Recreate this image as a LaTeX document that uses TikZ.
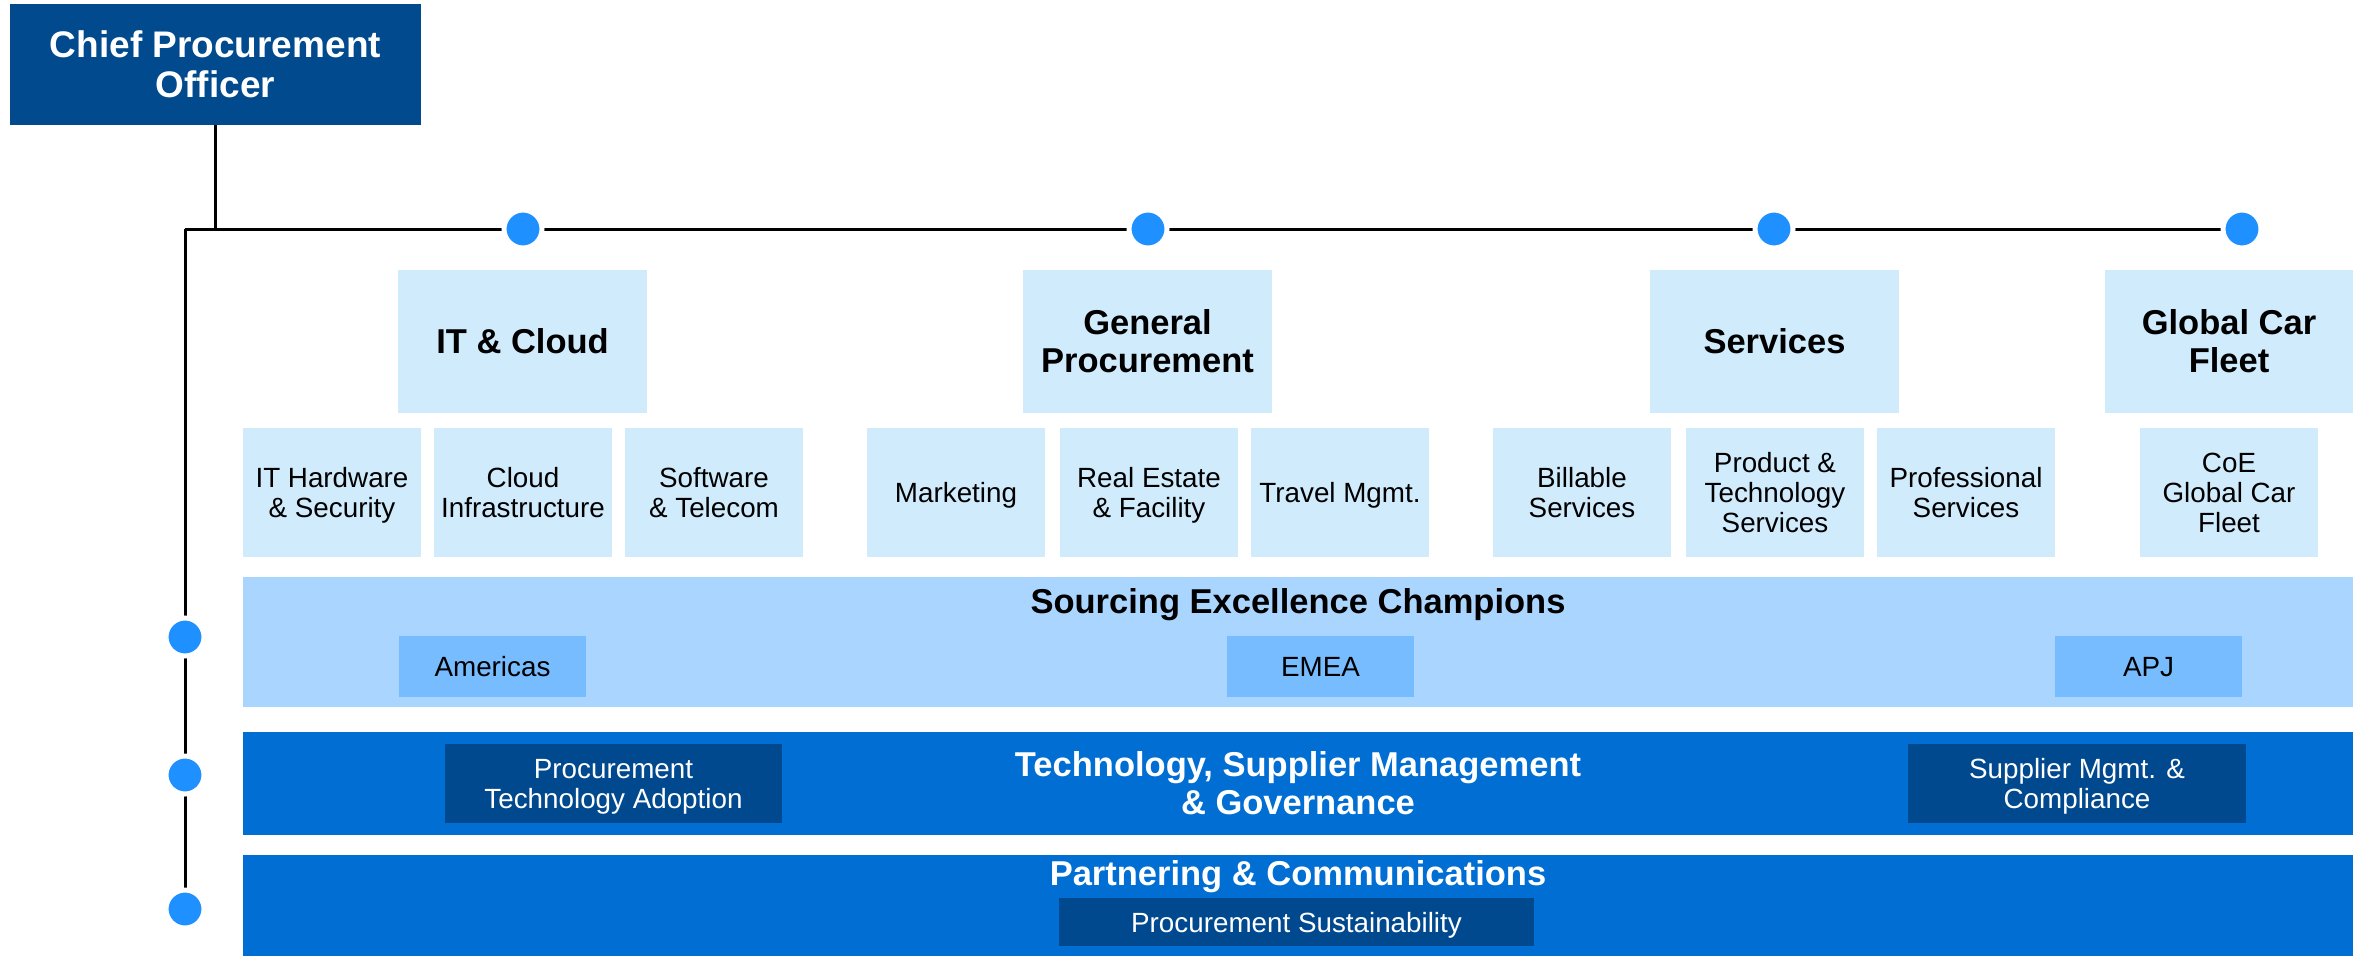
\documentclass[tikz,border=0pt]{standalone}
\usepackage{fontspec}
\setmainfont{Liberation Sans}
\usetikzlibrary{backgrounds}
\definecolor{cpoblue}{RGB}{0,74,141}
\definecolor{paleblue}{RGB}{208,235,252}
\definecolor{bandlight}{RGB}{170,213,255}
\definecolor{regionblue}{RGB}{118,188,255}
\definecolor{bandblue}{RGB}{0,110,210}
\definecolor{darkbox}{RGB}{0,73,143}
\definecolor{dotblue}{RGB}{30,144,255}
\tikzset{
  boldtext/.style={font=\fontsize{34.5}{38}\selectfont\bfseries,align=center},
  plaintext/.style={font=\fontsize{27.8}{30}\selectfont,align=center,text depth=0pt},
  cpobox/.style={fill=cpoblue,text=white,font=\fontsize{37}{40}\selectfont\bfseries,align=center,
    inner sep=0pt,minimum width=411pt,minimum height=121pt},
  headbox/.style={boldtext,fill=paleblue,inner sep=0pt,minimum width=249pt,minimum height=143pt},
  subbox/.style={plaintext,fill=paleblue,inner sep=0pt,minimum width=178pt,minimum height=129pt},
  band/.style={inner sep=0pt,minimum width=2110pt},
  regionbox/.style={plaintext,fill=regionblue,inner sep=0pt,minimum width=187pt,minimum height=61pt},
  teambox/.style={plaintext,fill=darkbox,text=white,inner sep=0pt},
  dot/.style={circle,fill=dotblue,draw=white,line width=5pt,inner sep=0pt,minimum size=38pt},
  wire/.style={line width=3pt,black}
}
\begin{document}
\begin{tikzpicture}[x=1pt,y=-1pt]
  \useasboundingbox (0,0) rectangle (2360,956);
  \node[cpobox] (cpo) at (215.5,64.5) {Chief Procurement\\Officer};
  \coordinate (hub) at (185,229);

  \node[dot] (dIT) at (523,229) {};
  \node[dot] (dGP) at (1148,229) {};
  \node[dot] (dSV) at (1774,229) {};
  \node[dot] (dGC) at (2242,229) {};
  \node[dot] (dSE) at (185,637) {};
  \node[dot] (dTS) at (185,775) {};
  \node[dot] (dPC) at (185,909) {};

  \node[headbox] (itcloud) at (522.5,341.5) {IT \& Cloud};
  \node[headbox] (genproc) at (1147.5,341.5) {General\\Procurement};
  \node[headbox] (services) at (1774.5,341.5) {Services};
  \node[headbox,minimum width=248pt] (carfleet) at (2229,341.5) {Global Car\\Fleet};

  \node[subbox] (ithw) at (332,492.5) {IT Hardware\\\& Security};
  \node[subbox] (cloudinf) at (523,492.5) {Cloud\\Infrastructure};
  \node[subbox] (software) at (714,492.5) {Software\\\& Telecom};
  \node[subbox] (marketing) at (956,492.5) {Marketing};
  \node[subbox] (realestate) at (1149,492.5) {Real Estate\\\& Facility};
  \node[subbox] (travel) at (1340,492.5) {Travel Mgmt.};
  \node[subbox] (billable) at (1582,492.5) {Billable\\Services};
  \node[subbox] (prodtech) at (1775,492.5) {Product \&\\Technology\\Services};
  \node[subbox] (profserv) at (1966,492.5) {Professional\\Services};
  \node[subbox] (coe) at (2229,492.5) {CoE\\Global Car\\Fleet};

  \node[band,fill=bandlight,minimum height=130pt] (sourcing) at (1298,642) {};
  \node[boldtext,anchor=base] (sourcingtitle) at (1298,613) {Sourcing Excellence Champions};
  \node[regionbox] (americas) at (492.5,666.5) {Americas};
  \node[regionbox] (emea) at (1320.5,666.5) {EMEA};
  \node[regionbox] (apj) at (2148.5,666.5) {APJ};

  \node[band,fill=bandblue,minimum height=103pt] (techgov) at (1298,783.5) {};
  \node[boldtext,text=white] (techgovtitle) at (1298,783) {Technology, Supplier Management\\\& Governance};
  \node[teambox,minimum width=337pt,minimum height=79pt] (techadopt) at (613.5,783.5) {Procurement\\Technology Adoption};
  \node[teambox,minimum width=338pt,minimum height=79pt] (suppmgmt) at (2077,783.5) {Supplier Mgmt. \&\\Compliance};

  \node[band,fill=bandblue,minimum height=101pt] (partner) at (1298,905.5) {};
  \node[boldtext,text=white,anchor=base] (partnertitle) at (1298,885) {Partnering \& Communications};
  \node[teambox,minimum width=475pt,minimum height=48pt] (sustain) at (1296.5,922) {Procurement Sustainability};

  \begin{scope}[on background layer]
    \draw[wire] (cpo.south) -- (cpo.south |- hub);
    \draw[wire] (hub) -- (dGC.center);
    \draw[wire] (hub) -- (dPC.center);
  \end{scope}
\end{tikzpicture}
\end{document}
